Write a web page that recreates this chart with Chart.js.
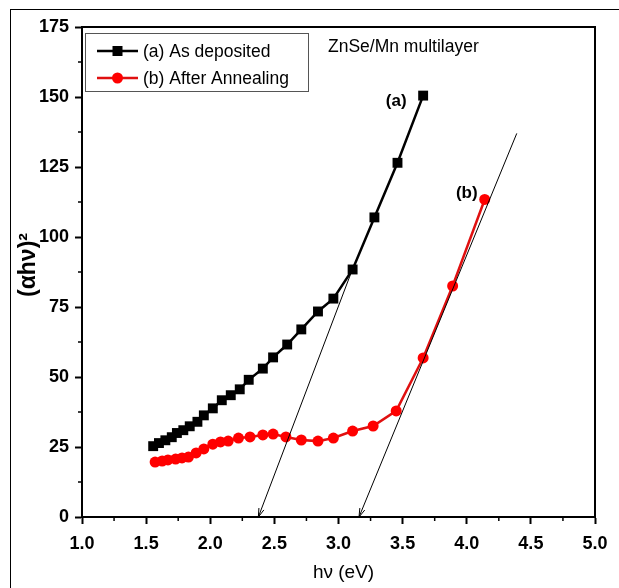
<!DOCTYPE html>
<html>
<head>
<meta charset="utf-8">
<script src="https://cdn.jsdelivr.net/npm/chart.js@4.4.0/dist/chart.umd.min.js"></script>
<style>
  html, body { margin: 0; padding: 0; background: #fff; }
</style>
</head>
<body>
<canvas id="chart" width="619" height="588"></canvas>
<script>
// Tauc plot of ZnSe/Mn multilayer: (alpha h nu)^2 vs photon energy.

// (a) As deposited
const energyA = [1.555, 1.60, 1.65, 1.70, 1.74, 1.79, 1.84, 1.90, 1.95, 2.02, 2.09, 2.16,
  2.23, 2.30, 2.41, 2.49, 2.60, 2.71, 2.84, 2.96, 3.11, 3.28, 3.46, 3.66];
const taucA = [25.3, 26.4, 27.4, 28.5, 30.0, 31.0, 32.4, 34.0, 36.3, 38.8, 41.7, 43.5,
  45.6, 49.0, 53.0, 57.0, 61.6, 67.0, 73.4, 78.0, 88.4, 107.0, 126.5, 150.5];

// (b) After annealing
const energyB = [1.57, 1.625, 1.67, 1.73, 1.78, 1.83, 1.89, 1.95, 2.02, 2.08, 2.14, 2.22,
  2.31, 2.41, 2.49, 2.59, 2.71, 2.84, 2.96, 3.11, 3.27, 3.45, 3.66, 3.89, 4.14];
const taucB = [19.6, 20.0, 20.4, 20.7, 21.1, 21.4, 22.9, 24.3, 26.0, 26.8, 27.1, 28.2,
  28.6, 29.3, 29.6, 28.6, 27.5, 27.1, 28.2, 30.7, 32.5, 37.9, 56.8, 82.5, 113.4];

// Linear extrapolations to the energy axis (first point = arrow tip).
const fitEnergyA = [2.375, 3.11];
const fitTaucA = [0, 88.6];
const fitEnergyB = [3.16, 4.39];
const fitTaucB = [0, 137];

const xTicks = [1.0, 1.5, 2.0, 2.5, 3.0, 3.5, 4.0, 4.5, 5.0];
const yTicks = [0, 25, 50, 75, 100, 125, 150, 175];

const seriesLabels = ["(a) As deposited", "(b) After Annealing"];
const noteText = "ZnSe/Mn multilayer";

const pts = (xs, ys) => xs.map((x, i) => ({ x, y: ys[i] }));

const TICK_FONT = "'Liberation Sans Narrow', 'Liberation Sans', Arial, sans-serif";
const TEXT_FONT = "'Liberation Sans', Arial, sans-serif";

// Frame, minor ticks, arrowheads, legend and text labels.
const decorPlugin = {
  id: "decor",
  beforeDraw(chart) {
    const ctx = chart.ctx;
    ctx.save();
    ctx.fillStyle = "#fff";
    ctx.fillRect(0, 0, chart.width, chart.height);
    ctx.strokeStyle = "#000";
    ctx.lineWidth = 1;
    ctx.strokeRect(10.5, 9.5, chart.width + 20, chart.height + 20);
    ctx.restore();
  },
  afterDraw(chart) {
    const ctx = chart.ctx;
    const { left, right, top, bottom } = chart.chartArea;
    const sx = chart.scales.x, sy = chart.scales.y;
    ctx.save();
    ctx.strokeStyle = "#000";

    // top and right frame lines
    ctx.lineWidth = 2;
    ctx.beginPath();
    ctx.moveTo(left, top); ctx.lineTo(right, top); ctx.lineTo(right, bottom);
    ctx.stroke();

    // minor ticks
    ctx.lineWidth = 1.5;
    ctx.beginPath();
    for (let i = 0; i < xTicks.length - 1; i++) {
      const px = sx.getPixelForValue((xTicks[i] + xTicks[i + 1]) / 2);
      ctx.moveTo(px, bottom); ctx.lineTo(px, bottom + 4);
    }
    for (let i = 0; i < yTicks.length - 1; i++) {
      const py = sy.getPixelForValue((yTicks[i] + yTicks[i + 1]) / 2);
      ctx.moveTo(left, py); ctx.lineTo(left - 4, py);
    }
    ctx.stroke();

    // arrowheads at the axis end of the fit lines
    [2, 3].forEach((di) => {
      const d = chart.getDatasetMeta(di).data;
      const p0 = d[0], p1 = d[1];
      const ang = Math.atan2(p0.y - p1.y, p0.x - p1.x);
      ctx.lineWidth = 1;
      ctx.beginPath();
      ctx.moveTo(p0.x - 9 * Math.cos(ang - 0.3), p0.y - 9 * Math.sin(ang - 0.3));
      ctx.lineTo(p0.x, p0.y);
      ctx.lineTo(p0.x - 9 * Math.cos(ang + 0.3), p0.y - 9 * Math.sin(ang + 0.3));
      ctx.stroke();
    });

    // legend box
    ctx.lineWidth = 1;
    ctx.strokeStyle = "#555";
    ctx.strokeRect(85.5, 33.5, 223, 58);
    [0, 1].forEach((di) => {
      const ds = chart.data.datasets[di];
      const y = 51 + di * 27;
      ctx.strokeStyle = ds.borderColor;
      ctx.lineWidth = 2.5;
      ctx.beginPath(); ctx.moveTo(97, y); ctx.lineTo(138, y); ctx.stroke();
      ctx.fillStyle = ds.pointBackgroundColor;
      ctx.beginPath();
      if (ds.pointStyle === "rect") ctx.rect(112.5, y - 5, 10, 10);
      else ctx.arc(117.5, y, 5.5, 0, Math.PI * 2);
      ctx.fill();
      ctx.fillStyle = "#000";
      ctx.font = "17.5px " + TEXT_FONT;
      ctx.textAlign = "left";
      ctx.textBaseline = "middle";
      ctx.fillText(ds.label, 143, y + 1);
    });

    // note and curve labels
    ctx.fillStyle = "#000";
    ctx.textBaseline = "middle";
    ctx.textAlign = "left";
    ctx.font = "17.5px " + TEXT_FONT;
    ctx.fillText(noteText, 328, 47);
    ctx.font = "bold 17px " + TEXT_FONT;
    ctx.textAlign = "center";
    ctx.fillText("(a)", sx.getPixelForValue(3.45), sy.getPixelForValue(148.5));
    ctx.fillText("(b)", sx.getPixelForValue(4.0), sy.getPixelForValue(115.5));

    // axis titles
    ctx.font = "19px " + TEXT_FONT;
    ctx.fillText("h\u03bd (eV)", (left + right) / 2 + 5, 573);
    ctx.save();
    ctx.translate(29, 265);
    ctx.rotate(-Math.PI / 2);
    ctx.font = "bold 23px " + TEXT_FONT;
    ctx.fillText("(\u03b1h\u03bd)\u00b2", 0, 0);
    ctx.restore();

    ctx.restore();
  },
};

new Chart(document.getElementById("chart"), {
  type: "line",
  data: {
    datasets: [
      {
        label: seriesLabels[0],
        data: pts(energyA, taucA),
        borderColor: "#000",
        backgroundColor: "#000",
        pointBackgroundColor: "#000",
        pointBorderColor: "#000",
        pointStyle: "rect",
        pointRadius: 7,
        pointBorderWidth: 0,
        borderWidth: 2.5,
        order: 2,
      },
      {
        label: seriesLabels[1],
        data: pts(energyB, taucB),
        borderColor: "#e01010",
        backgroundColor: "#ff0000",
        pointBackgroundColor: "#ff0000",
        pointBorderColor: "#ff0000",
        pointStyle: "circle",
        pointRadius: 5.5,
        pointBorderWidth: 0,
        borderWidth: 2.5,
        order: 3,
      },
      {
        label: "fit a",
        data: pts(fitEnergyA, fitTaucA),
        borderColor: "#000",
        borderWidth: 1,
        pointRadius: 0,
        order: 1,
      },
      {
        label: "fit b",
        data: pts(fitEnergyB, fitTaucB),
        borderColor: "#000",
        borderWidth: 1,
        pointRadius: 0,
        order: 1,
      },
    ],
  },
  options: {
    responsive: false,
    animation: false,
    devicePixelRatio: 1,
    layout: { padding: { top: 27, right: 24, bottom: 0, left: 0 } },
    plugins: { legend: { display: false }, tooltip: { enabled: false } },
    scales: {
      x: {
        type: "linear",
        min: 1, max: 5,
        afterBuildTicks: (s) => { s.ticks = xTicks.map((v) => ({ value: v })); },
        afterFit: (s) => { s.height = 71; },
        ticks: {
          callback: (v) => v.toFixed(1),
          color: "#000",
          padding: 9,
          maxRotation: 0,
          font: { family: TICK_FONT, size: 18, weight: "bold" },
        },
        grid: { drawOnChartArea: false, color: "#000", tickLength: 7, tickWidth: 2 },
        border: { color: "#000", width: 2 },
      },
      y: {
        min: 0, max: 175,
        afterBuildTicks: (s) => { s.ticks = yTicks.map((v) => ({ value: v })); },
        afterFit: (s) => { s.width = 82; },
        ticks: {
          color: "#000",
          padding: 6,
          font: { family: TICK_FONT, size: 18, weight: "bold" },
        },
        grid: { drawOnChartArea: false, color: "#000", tickLength: 7, tickWidth: 2 },
        border: { color: "#000", width: 2 },
      },
    },
  },
  plugins: [decorPlugin],
});
</script>
</body>
</html>
